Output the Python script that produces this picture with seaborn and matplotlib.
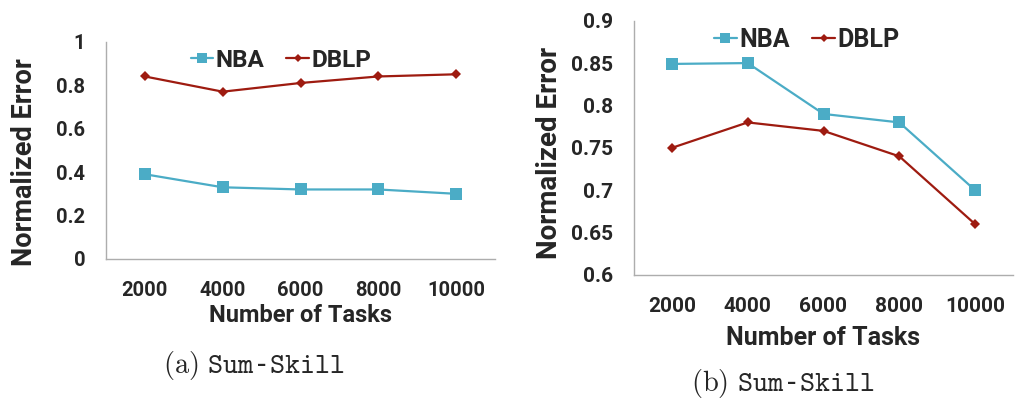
import numpy as np
import pandas as pd
import matplotlib
matplotlib.use("Agg")
import matplotlib.pyplot as plt
import seaborn as sns
from matplotlib.ticker import FixedLocator, FuncFormatter

tasks = ["2000", "4000", "6000", "8000", "10000"]
series = ["NBA", "DBLP"]
left_nba = [0.39, 0.33, 0.32, 0.32, 0.30]
left_dblp = [0.84, 0.77, 0.81, 0.84, 0.85]
right_nba = [0.849, 0.85, 0.79, 0.78, 0.70]
right_dblp = [0.75, 0.78, 0.77, 0.74, 0.66]
captions = ["(a)", "(b)"]

sns.set_theme(style="white")
plt.rcParams["font.family"] = ["Roboto", "DejaVu Sans"]
plt.rcParams["mathtext.fontset"] = "cm"

palette = {"NBA": "#4BACC6", "DBLP": "#9E1B10"}
markers = {"NBA": "s", "DBLP": "D"}
GRAY = "#ADADAD"

def make_df(nba, dblp):
    rows = []
    for i, t in enumerate(tasks):
        rows.append({"pos": i, "val": nba[i], "series": "NBA"})
    for i, t in enumerate(tasks):
        rows.append({"pos": i, "val": dblp[i], "series": "DBLP"})
    return pd.DataFrame(rows)

fig = plt.figure(figsize=(10.18, 3.98), dpi=100)
axL = fig.add_axes([106/1018, 1-259/398, 389/1018, 217.3/398])
axR = fig.add_axes([634/1018, 1-275/398, 379/1018, 254.3/398])

# ax, df, ylim, yticks, ylabel x, ylabel y, xlabel y, legend pos, xpad, ylabel size, xlabel size, tick size, legend size
configs = [
    (axL, make_df(left_nba, left_dblp), (0, 1), np.arange(0, 1.01, 0.2),
     -0.175, 0.448, -0.205, (0.45, 0.915), 16, 19.5, 17, 14.5, 17.5),
    (axR, make_df(right_nba, right_dblp), (0.6, 0.9), np.arange(0.6, 0.901, 0.05),
     -0.187, 0.48, -0.2, (0.456, 0.925), 16, 20, 18, 15, 18),
]

for ax, df, ylim, yticks, ylx, yly, xly, legpos, xpad, ylsz, xlsz, tsz, lsz in configs:
    sns.lineplot(data=df, x="pos", y="val", hue="series", style="series",
                 hue_order=series, style_order=series,
                 palette=palette, markers=markers, dashes=False,
                 linewidth=1.6, markeredgewidth=0, ax=ax)
    for line, s in zip(ax.lines[:2], series):
        line.set_markersize(8 if s == "NBA" else 5)
    ax.set_xlim(-0.5, len(tasks) - 0.5)
    ax.set_ylim(*ylim)
    ax.set_xticks(range(len(tasks)))
    ax.set_xticklabels(tasks)
    ax.xaxis.set_minor_locator(FixedLocator(np.arange(-0.5, len(tasks), 1.0)))
    ax.tick_params(axis="x", which="major", length=0, pad=xpad, labelsize=tsz)
    ax.tick_params(axis="x", which="minor", length=5, width=1, color=GRAY, direction="out")
    ax.set_yticks(yticks)
    ax.yaxis.set_major_formatter(FuncFormatter(lambda v, p: f"{round(v, 2):g}"))
    ax.tick_params(axis="y", length=6, width=1, color=GRAY, direction="out", pad=9, labelsize=tsz)
    for lbl in ax.get_xticklabels() + ax.get_yticklabels():
        lbl.set_fontweight("bold")
    for side in ["top", "right"]:
        ax.spines[side].set_visible(False)
    for side in ["left", "bottom"]:
        ax.spines[side].set_color(GRAY)
        ax.spines[side].set_linewidth(1)
    ax.set_xlabel("Number of Tasks", fontsize=xlsz, fontweight="bold")
    ax.set_ylabel("Normalized Error", fontsize=ylsz, fontweight="bold")
    ax.yaxis.set_label_coords(ylx, yly)
    ax.xaxis.set_label_coords(0.5, xly)
    handles, labels = ax.get_legend_handles_labels()
    leg = ax.legend(handles, labels, loc="center", bbox_to_anchor=legpos, ncol=2,
                    frameon=False, handlelength=0.92, handletextpad=0.1,
                    columnspacing=0.9, prop={"weight": "bold", "size": lsz})
    for h, s in zip(leg.legend_handles, labels):
        h.set_markersize(7 if s == "NBA" else 4.5)
        h.set_markeredgewidth(0)

cap_pos = [(254/1018, 1-365/398), (783/1018, 1-383/398)]
for (cx, cy), c in zip(cap_pos, captions):
    fig.text(cx, cy, r"$\mathrm{" + c + r"}\ \mathtt{Sum}$-$\mathtt{Skill}$",
             ha="center", va="center", fontsize=20.5, family="DejaVu Sans Mono")

fig.savefig("out.png", dpi=100)
